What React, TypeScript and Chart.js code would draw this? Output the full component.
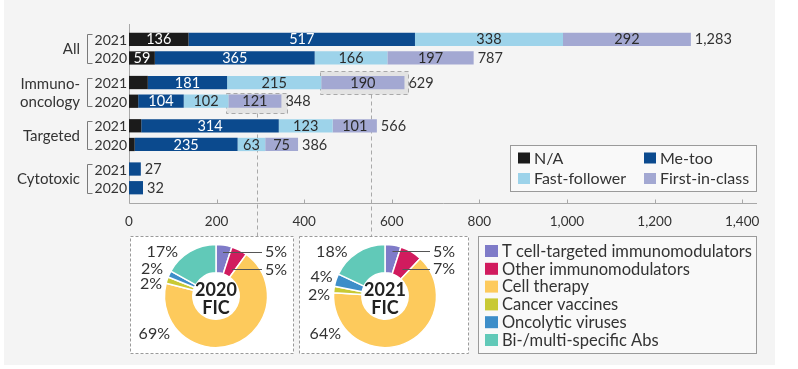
import React, { useEffect, useRef } from "react";
import { Chart, registerables } from "chart.js";

Chart.register(...registerables);

// ---------------- Data ----------------
const categoryLabels: (string | string[])[] = ["All", ["Immuno-", "oncology"], "Targeted", "Cytotoxic"];
const years = ["2021", "2020"];
const seriesNames = ["N/A", "Me-too", "Fast-follower", "First-in-class"];

const naValues2021 = [136, 43, 28, 0];
const meTooValues2021 = [517, 181, 314, 27];
const fastFollowerValues2021 = [338, 215, 123, 0];
const firstInClassValues2021 = [292, 190, 101, 0];

const naValues2020 = [59, 21, 13, 0];
const meTooValues2020 = [365, 104, 235, 32];
const fastFollowerValues2020 = [166, 102, 63, 0];
const firstInClassValues2020 = [197, 121, 75, 0];

const xTickValues = [0, 200, 400, 600, 800, 1000, 1200, 1400];

const ficClasses = [
  "T cell-targeted immunomodulators",
  "Other immunomodulators",
  "Cell therapy",
  "Cancer vaccines",
  "Oncolytic viruses",
  "Bi-/multi-specific Abs",
];
const fic2020Shares = [5, 5, 69, 2, 2, 17];
const fic2021Shares = [5, 7, 64, 2, 4, 18];

// ---------------- Styles ----------------
const FONT = "Lato, 'Noto Sans', sans-serif";
const TEXT = "#333333";
const AXIS = "#a8a8a8";
const seriesColors = ["#1b1b1b", "#0b4a8e", "#9dd3ea", "#a3a8d2"];
const seriesLabelColors = ["#ffffff", "#ffffff", "#2b2b2b", "#2b2b2b"];
const ficColors = ["#7f7bc8", "#d11b5e", "#fdca5c", "#c8c934", "#3d8ec9", "#61c9b8"];

// label layout for the doughnuts (offsets from doughnut centre)
type LabelPos = { dx: number; dy: number; align: CanvasTextAlign; lead?: number };
const fic2020LabelLayout: LabelPos[] = [
  { dx: 49, dy: -44.5, align: "left", lead: 7 },
  { dx: 49, dy: -27, align: "left", lead: 16 },
  { dx: -46, dy: 37, align: "right" },
  { dx: -54, dy: -12.5, align: "right" },
  { dx: -53, dy: -27.5, align: "right" },
  { dx: -38, dy: -44.5, align: "right" },
];
const fic2021LabelLayout: LabelPos[] = [
  { dx: 48, dy: -45, align: "left", lead: 7.5 },
  { dx: 48, dy: -27.5, align: "left", lead: 17.5 },
  { dx: -44, dy: 37, align: "right" },
  { dx: -55, dy: -2, align: "right" },
  { dx: -52.5, dy: -19.5, align: "right" },
  { dx: -37.5, dy: -44.5, align: "right" },
];

const font = (size: number, weight = "normal") => `${weight} ${size}px ${FONT}`;

// ---------------- Bar chart plugin ----------------
const barDecor = {
  id: "barDecor",
  beforeDatasetsDraw(chart: any) {
    const ctx: CanvasRenderingContext2D = chart.ctx;
    const { left, right, top, bottom } = chart.chartArea;
    const xs = chart.scales.x;
    ctx.save();
    // axes
    ctx.strokeStyle = AXIS;
    ctx.lineWidth = 1;
    const axisY = Math.round(bottom + 3) + 0.5;
    const axisX = Math.round(left) + 0.5;
    ctx.beginPath();
    ctx.moveTo(axisX, top - 3);
    ctx.lineTo(axisX, axisY);
    ctx.lineTo(right, axisY);
    xs.ticks.forEach((t: any) => {
      const px = Math.round(xs.getPixelForValue(t.value)) + 0.5;
      ctx.moveTo(px, axisY);
      ctx.lineTo(px, axisY - 4);
    });
    ctx.stroke();

    // highlighted first-in-class immuno-oncology segments + connectors
    const highlights = [
      { ds: 3, l: 1, r: 4, t: 5, b: 5, frac: 0.57 },
      { ds: 7, l: 2, r: 6, t: 2, b: 5, frac: 0.5 },
    ];
    const connectorEnd = 236;
    highlights.forEach((h) => {
      const el = chart.getDatasetMeta(h.ds).data[1];
      const { x, y, base, height } = el.getProps(["x", "y", "base", "height"], true);
      const x0 = Math.round(base - h.l) + 0.5;
      const x1 = Math.round(x + h.r) + 0.5;
      const y0 = Math.round(y - height / 2 - h.t) + 0.5;
      const y1 = Math.round(y + height / 2 + h.b) + 0.5;
      ctx.fillStyle = "#e3e3e3";
      ctx.fillRect(x0, y0, x1 - x0, y1 - y0);
      ctx.setLineDash([4, 3]);
      ctx.strokeStyle = "#a9a9a9";
      ctx.strokeRect(x0, y0, x1 - x0, y1 - y0);
      const lx = Math.round(x0 + (x1 - x0) * h.frac) + 0.5;
      ctx.beginPath();
      ctx.moveTo(lx, y1);
      ctx.lineTo(lx, connectorEnd);
      ctx.stroke();
      ctx.setLineDash([]);
    });
    ctx.restore();
  },
  afterDatasetsDraw(chart: any) {
    const ctx: CanvasRenderingContext2D = chart.ctx;
    const { left } = chart.chartArea;
    const xs = chart.scales.x;
    const ys = chart.scales.y;
    ctx.save();
    ctx.textBaseline = "middle";

    // category labels
    ctx.font = font(15);
    ctx.fillStyle = TEXT;
    ctx.textAlign = "right";
    (chart.data.labels as (string | string[])[]).forEach((lab, ci) => {
      const lines = Array.isArray(lab) ? lab : [lab];
      const cy = ys.getPixelForValue(ci);
      const lh = 18;
      lines.forEach((ln, li) => {
        ctx.fillText(ln, left - 49, cy + (li - (lines.length - 1) / 2) * lh + 1);
      });
    });

    // segment labels
    ctx.font = font(14.5);
    ctx.textAlign = "center";
    chart.data.datasets.forEach((ds: any, di: number) => {
      const si = di % seriesNames.length;
      chart.getDatasetMeta(di).data.forEach((el: any, ci: number) => {
        const v = ds.data[ci];
        if (v < 50) return;
        const { x, y, base } = el.getProps(["x", "y", "base"], true);
        ctx.fillStyle = seriesLabelColors[si];
        ctx.fillText(String(v), (x + base) / 2, y + 0.5);
      });
    });
    // totals
    ctx.textAlign = "left";
    ctx.fillStyle = TEXT;
    years.forEach((_, yi) => {
      categoryLabels.forEach((__, ci) => {
        let total = 0;
        for (let si = 0; si < seriesNames.length; si++) total += chart.data.datasets[yi * 4 + si].data[ci];
        const y = chart.getDatasetMeta(yi * 4 + 1).data[ci].y;
        ctx.fillText(total.toLocaleString("en-US"), xs.getPixelForValue(total) + 4, y + 0.5);
      });
    });
    // year labels + brackets
    ctx.font = font(14);
    ctx.textAlign = "right";
    ctx.strokeStyle = "#7a7a7a";
    ctx.lineWidth = 1;
    categoryLabels.forEach((_, ci) => {
      const yTop = chart.getDatasetMeta(1).data[ci].y;
      const yBot = chart.getDatasetMeta(5).data[ci].y;
      ctx.fillStyle = TEXT;
      ctx.fillText(years[0], left - 2, yTop + 1);
      ctx.fillText(years[1], left - 2, yBot + 1);
      const bx = Math.round(left - 42) + 0.5;
      const t = Math.round(yTop - 5) + 0.5;
      const b = Math.round(yBot + 5) + 0.5;
      ctx.beginPath();
      ctx.moveTo(bx + 5, t);
      ctx.lineTo(bx, t);
      ctx.lineTo(bx, b);
      ctx.lineTo(bx + 5, b);
      ctx.stroke();
    });

    // bar legend
    ctx.fillStyle = "#f9f9f9";
    ctx.fillRect(510.5, 145.5, 246, 46);
    ctx.strokeStyle = "#9a9a9a";
    ctx.strokeRect(510.5, 145.5, 246, 46);
    ctx.font = font(16);
    ctx.textAlign = "left";
    const legendCols = [518, 644];
    const legendRows = [158, 178.5];
    seriesNames.forEach((name, si) => {
      const lx = legendCols[si % 2];
      const ly = legendRows[Math.floor(si / 2)];
      ctx.fillStyle = seriesColors[si];
      ctx.fillRect(lx, ly - 5.5, 12, 11);
      ctx.fillStyle = TEXT;
      ctx.fillText(name, lx + 16, ly + 0.5);
    });

    // FIC legend
    ctx.fillStyle = "#f9f9f9";
    ctx.fillRect(478.5, 236.5, 278, 117);
    ctx.strokeStyle = "#9a9a9a";
    ctx.strokeRect(478.5, 236.5, 278, 117);
    ctx.font = font(16.5);
    ficClasses.forEach((name, i) => {
      const ly = 251 + i * 17.8;
      ctx.fillStyle = ficColors[i];
      ctx.fillRect(485, ly - 6, 13, 12);
      ctx.fillStyle = TEXT;
      ctx.fillText(name, 502, ly + 0.5);
    });
    ctx.restore();
  },
};

function BarChart() {
  const ref = useRef<HTMLCanvasElement>(null);
  useEffect(() => {
    const valuesByYear = [
      [naValues2021, meTooValues2021, fastFollowerValues2021, firstInClassValues2021],
      [naValues2020, meTooValues2020, fastFollowerValues2020, firstInClassValues2020],
    ];
    const datasets = years.flatMap((yr, yi) =>
      seriesNames.map((name, si) => ({
        label: name,
        data: valuesByYear[yi][si],
        stack: yr,
        backgroundColor: seriesColors[si],
        borderWidth: 0,
        categoryPercentage: 0.865,
        barPercentage: 0.71,
      }))
    );
    const chart = new Chart(ref.current!, {
      type: "bar",
      data: { labels: categoryLabels as any, datasets },
      options: {
        indexAxis: "y",
        animation: false,
        responsive: false,
        maintainAspectRatio: false,
        devicePixelRatio: 1,
        layout: { padding: { top: 27, right: 41, bottom: 139, left: 0 } },
        plugins: { legend: { display: false }, tooltip: { enabled: false } },
        scales: {
          x: {
            type: "linear",
            stacked: true,
            min: 0,
            max: 1434,
            grid: { display: false },
            border: { display: false },
            afterBuildTicks: (s: any) => {
              s.ticks = xTickValues.map((v) => ({ value: v }));
            },
            afterFit: (s: any) => {
              s.height = 30;
            },
            ticks: {
              padding: 6,
              color: TEXT,
              font: { family: FONT, size: 13.5 },
              callback: (v: any) => Number(v).toLocaleString("en-US"),
            },
          },
          y: {
            type: "category",
            grid: { display: false },
            border: { display: false },
            afterFit: (s: any) => {
              s.width = 129;
            },
            ticks: { display: false },
          },
        },
      } as any,
      plugins: [barDecor],
    });
    return () => chart.destroy();
  }, []);
  return (
    <canvas
      ref={ref}
      width={798}
      height={369}
      style={{ position: "absolute", left: 0, top: 0, width: 798, height: 369 }}
    />
  );
}

// ---------------- Doughnut ----------------
function FicDoughnut(props: {
  year: string;
  shares: number[];
  layout: LabelPos[];
  left: number;
  top: number;
  width: number;
  height: number;
}) {
  const ref = useRef<HTMLCanvasElement>(null);
  useEffect(() => {
    const { year, shares, layout, width, height } = props;
    const R = 52.25;
    const cx = 86;
    const cy = 60;
    const decor = {
      id: "ficDecor",
      beforeDraw(chart: any) {
        const ctx: CanvasRenderingContext2D = chart.ctx;
        ctx.save();
        ctx.fillStyle = "#ffffff";
        ctx.fillRect(0, 0, width, height);
        ctx.strokeStyle = "#9a9a9a";
        ctx.lineWidth = 1;
        ctx.setLineDash([3, 2]);
        ctx.strokeRect(0.5, 0.5, width - 1, height - 1);
        ctx.restore();
      },
      afterDraw(chart: any) {
        const ctx: CanvasRenderingContext2D = chart.ctx;
        const arc0 = chart.getDatasetMeta(0).data[0];
        const ox = arc0.x;
        const oy = arc0.y;
        ctx.save();
        ctx.textBaseline = "middle";
        ctx.fillStyle = "#222222";
        ctx.textAlign = "center";
        ctx.font = font(18, "bold");
        ctx.fillText(year, ox, oy - 5.5);
        ctx.fillText("FIC", ox, oy + 12);
        ctx.font = font(16);
        ctx.strokeStyle = "#555555";
        ctx.lineWidth = 1;
        shares.forEach((v, i) => {
          const p = layout[i];
          const tx = ox + p.dx;
          const ty = oy + p.dy;
          if (p.lead !== undefined) {
            const ly = Math.round(ty) + 0.5;
            ctx.beginPath();
            ctx.moveTo(ox + p.lead, ly);
            ctx.lineTo(tx - 3, ly);
            ctx.stroke();
          }
          ctx.fillStyle = TEXT;
          ctx.textAlign = p.align;
          ctx.fillText(`${v}%`, tx, ty + 0.5);
        });
        ctx.restore();
      },
    };
    const chart = new Chart(ref.current!, {
      type: "doughnut",
      data: {
        labels: ficClasses,
        datasets: [
          {
            data: shares,
            backgroundColor: ficColors,
            borderColor: "#ffffff",
            borderWidth: 1.5,
          },
        ],
      },
      options: {
        animation: false,
        responsive: false,
        maintainAspectRatio: false,
        devicePixelRatio: 1,
        cutout: "45%",
        layout: {
          padding: {
            top: cy - R,
            bottom: height - cy - R,
            left: cx - R,
            right: width - cx - R,
          },
        },
        plugins: { legend: { display: false }, tooltip: { enabled: false } },
      } as any,
      plugins: [decor],
    });
    return () => chart.destroy();
  }, []);
  return (
    <canvas
      ref={ref}
      width={props.width}
      height={props.height}
      style={{
        position: "absolute",
        left: props.left,
        top: props.top,
        width: props.width,
        height: props.height,
      }}
    />
  );
}

export default function App() {
  return (
    <div
      style={{
        position: "absolute",
        left: 0,
        top: 0,
        width: 798,
        height: 369,
        background: "#ffffff",
        overflow: "hidden",
      }}
    >
      <div
        style={{
          position: "absolute",
          left: 4,
          top: 0,
          width: 771,
          height: 365,
          background: "#f4f4f4",
        }}
      />
      <BarChart />
      <FicDoughnut year="2020" shares={fic2020Shares} layout={fic2020LabelLayout} left={130} top={236} width={164} height={118} />
      <FicDoughnut year="2021" shares={fic2021Shares} layout={fic2021LabelLayout} left={299} top={236} width={170} height={118} />
    </div>
  );
}
